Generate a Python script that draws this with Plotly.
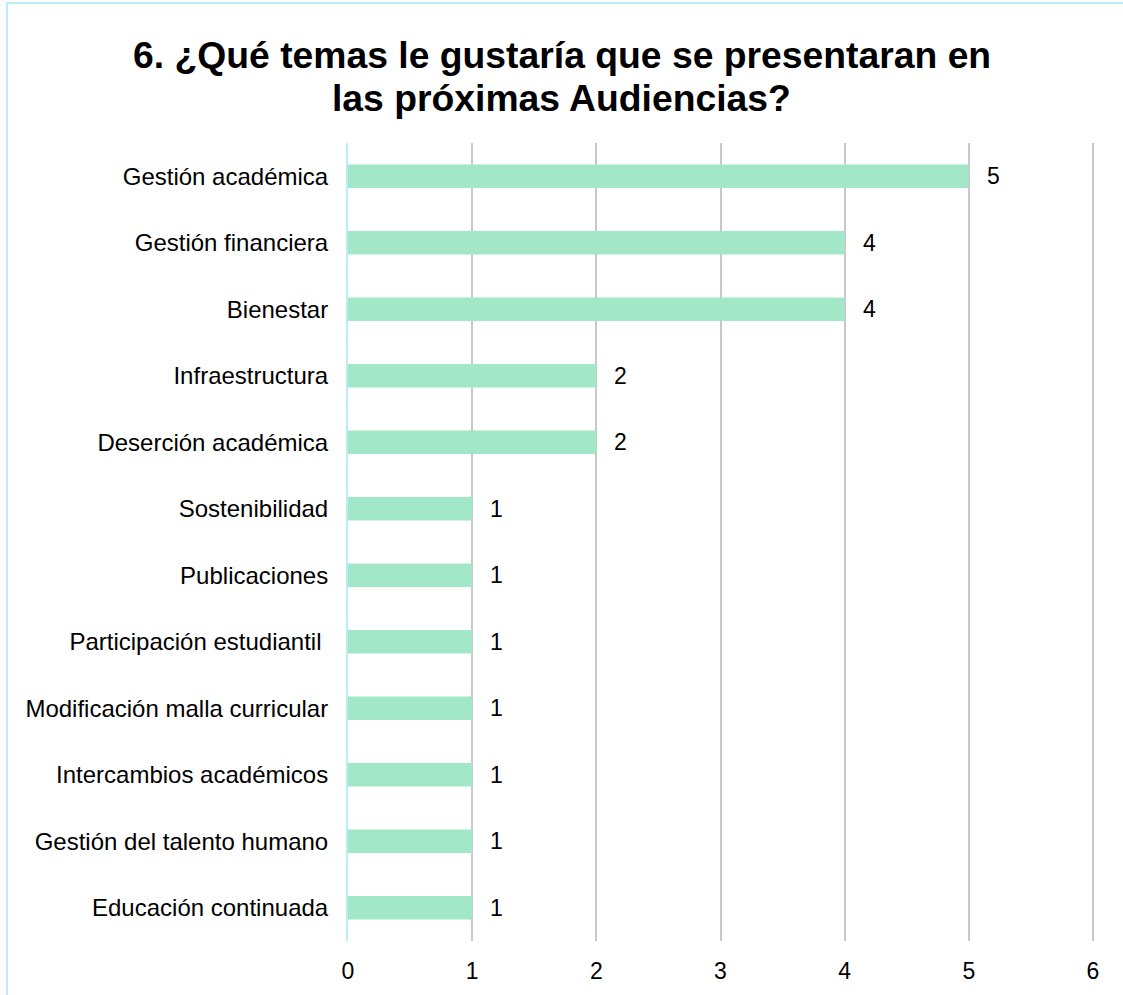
import plotly.graph_objects as go

categories = [
    "Gestión académica",
    "Gestión financiera",
    "Bienestar",
    "Infraestructura",
    "Deserción académica",
    "Sostenibilidad",
    "Publicaciones",
    "Participación estudiantil\u00a0",
    "Modificación malla curricular",
    "Intercambios académicos",
    "Gestión del talento humano",
    "Educación continuada",
]
values = [5, 4, 4, 2, 2, 1, 1, 1, 1, 1, 1, 1]
x_ticks = [0, 1, 2, 3, 4, 5, 6]
title_line1 = "6. ¿Qué temas le gustaría que se presentaran en"
title_line2 = "las próximas Audiencias?"

W, H = 1123, 995
ml, mr, mt, mb = 348, 26, 143, 54
FONT = "Liberation Sans, Arial, sans-serif"
px_per_unit = (1093 - 348) / 6.0
x_max = 6 + (W - mr - 1093) / px_per_unit

fig = go.Figure()
fig.add_trace(go.Bar(
    x=values, y=categories, orientation="h",
    marker=dict(color="#a2e7c7", line=dict(width=0)),
    width=0.35, hoverinfo="x+y",
))

annotations = []
for c, v in zip(categories, values):
    annotations.append(dict(
        x=v, y=c, xref="x", yref="y", text=str(v), showarrow=False,
        xanchor="left", yanchor="middle", xshift=16,
        font=dict(family=FONT, size=23, color="#000000"),
    ))

plot_w = W - ml - mr
plot_h = H - mt - mb
cx = (W / 2 - ml) / plot_w
annotations.append(dict(x=cx, y=1.110, xref="paper", yref="paper", text=f"<b>{title_line1}</b>",
                        showarrow=False, xanchor="center", yanchor="middle",
                        font=dict(family=FONT, size=37.3, color="#000000")))
annotations.append(dict(x=cx, y=1.056, xref="paper", yref="paper", text=f"<b>{title_line2}</b>",
                        showarrow=False, xanchor="center", yanchor="middle",
                        font=dict(family=FONT, size=37.3, color="#000000")))

fig.update_layout(
    width=W, height=H,
    margin=dict(l=ml, r=mr, t=mt, b=mb, pad=0),
    paper_bgcolor="white", plot_bgcolor="white",
    showlegend=False,
    annotations=annotations,
    shapes=[dict(type="rect", xref="paper", yref="paper",
                 x0=(7 - ml) / plot_w, x1=(1135 - ml) / plot_w,
                 y0=(H - mb - 1010) / plot_h, y1=(H - mb - 3) / plot_h,
                 line=dict(color="#b9eef8", width=2), layer="below")],
    xaxis=dict(
        range=[0, x_max], tickvals=x_ticks, ticktext=[str(t) for t in x_ticks],
        showgrid=True, gridcolor="#c8c8c8", gridwidth=2,
        zeroline=False, showline=False, ticks="",
        tickfont=dict(family=FONT, size=23, color="#000000"),
        ticklabelstandoff=14, fixedrange=True,
    ),
    yaxis=dict(
        categoryorder="array", categoryarray=categories, autorange="reversed",
        showgrid=False, zeroline=False, showline=True, linecolor="#b9eef8", linewidth=2,
        ticks="", tickfont=dict(family=FONT, size=24, color="#000000"),
        ticklabelstandoff=13, fixedrange=True,
    ),
)

fig.write_html(
    "out.html",
    config={"displayModeBar": False},
    post_script="document.body.style.margin='0';document.body.style.overflow='hidden';",
)
